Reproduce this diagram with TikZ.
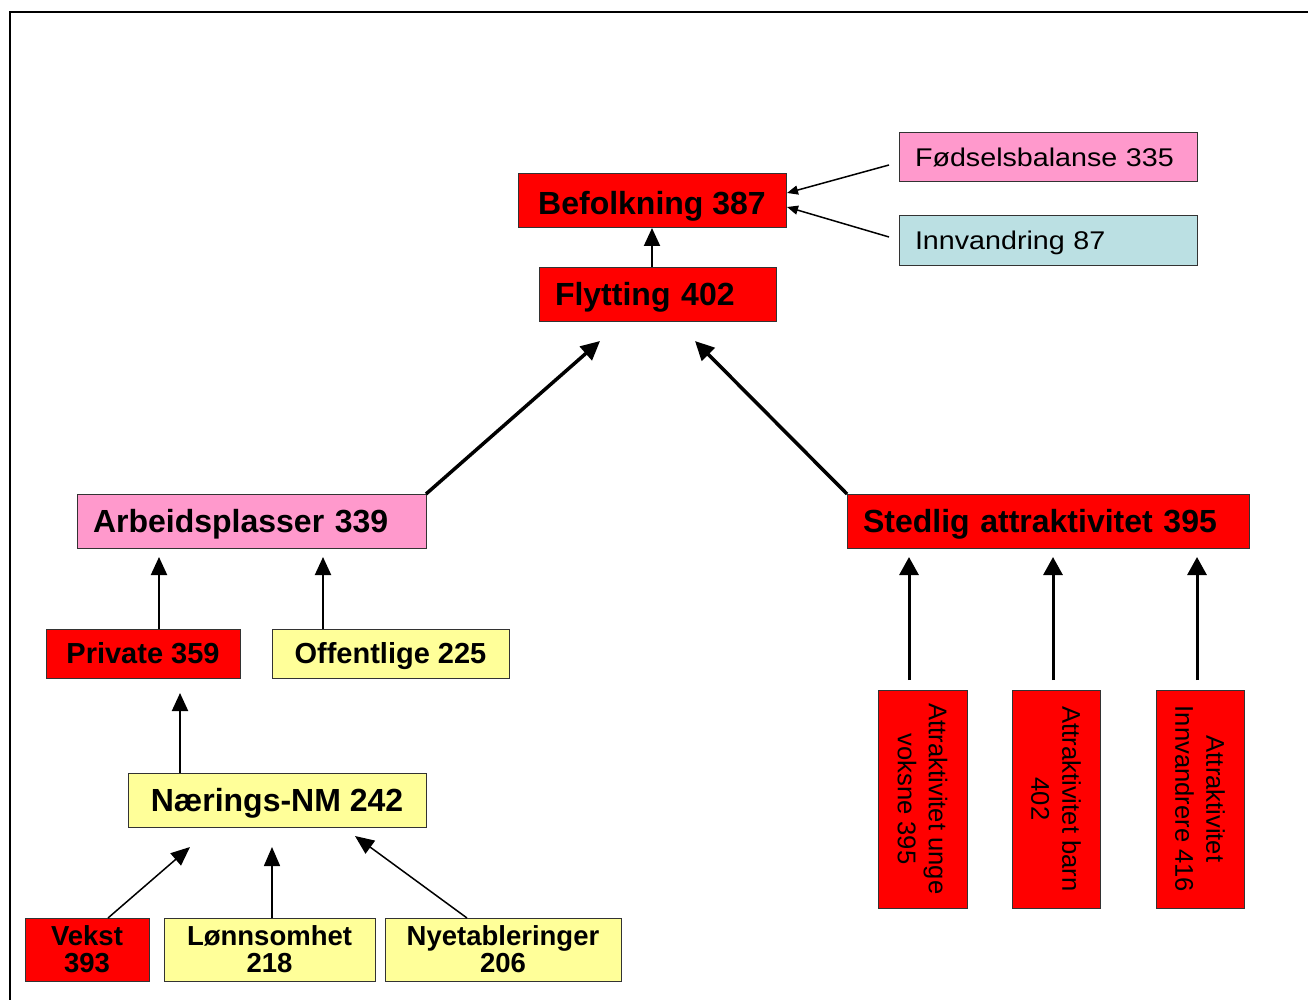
\documentclass[tikz,border=0pt]{standalone}
\usepackage{fontspec}
\setmainfont{Liberation Sans}
\newfontfamily\widereg[FakeStretch=1.12]{Liberation Sans}
\usetikzlibrary{arrows.meta,calc}
\definecolor{cred}{HTML}{FF0000}
\definecolor{cpink}{HTML}{FF99CC}
\definecolor{cyel}{HTML}{FFFF99}
\definecolor{cblue}{HTML}{BBE0E3}
\definecolor{cedge}{HTML}{333333}
\tikzset{
  box/.style={draw=cedge, line width=1pt, inner sep=0pt, outer sep=0pt},
  bigtxt/.style={font=\fontsize{32}{38}\selectfont\bfseries, text height=23pt, text depth=0pt},
  midtxt/.style={font=\fontsize{29}{34}\selectfont\bfseries, text height=20.8pt, text depth=0pt},
  regtxt/.style={font=\widereg\fontsize{25.6}{30}\selectfont, text height=18.3pt, text depth=0pt},
  smalltxt/.style={font=\fontsize{27.5}{27}\selectfont\bfseries, align=center},
  vtxt/.style={font=\fontsize{25.6}{31}\selectfont, align=center, rotate=-90},
  leftbox/.style 2 args={box, text width=#1-32pt, inner xsep=16pt, minimum height=#2, align=left},
  cbox/.style 2 args={box, minimum width=#1, minimum height=#2, align=center},
  arrthin/.style={line width=1.5pt, -{Triangle[width=9pt,length=11pt]}},
  arrmed/.style={line width=2pt, -{Triangle[width=16pt,length=18pt]}},
  arrbot/.style={line width=1.5pt, -{Triangle[width=16pt,length=19pt]}},
  arrthick/.style={line width=3.5pt, -{Triangle[width=18pt,length=19pt]}},
  arrvert/.style={line width=3pt, -{Triangle[width=19pt,length=18pt]}},
  frame/.style={line width=2pt}
}
\begin{document}
\begin{tikzpicture}[x=1pt,y=-1pt]
\useasboundingbox (0,0) rectangle (1308,1000);
\fill[white] (0,0) rectangle (1308,1000);
\draw[frame] (9.5,1000) -- (9.5,12.5) -- (1308,12.5);

% top
\node[cbox={268pt}{54pt}, fill=cred, bigtxt] (bef) at (652,201) {\raisebox{-2pt}{Befolkning 387}};
\node[leftbox={298pt}{49pt}, fill=cpink, regtxt] (fod) at (1048,157.5) {Fødselsbalanse 335};
\node[leftbox={298pt}{49pt}, fill=cblue, regtxt] (inn) at (1048,240.5) {Innvandring 87};
\node[leftbox={237pt}{54pt}, fill=cred, bigtxt] (fly) at (657.5,294) {Flytting 402};

% middle
\node[leftbox={349pt}{54pt}, fill=cpink, bigtxt] (arb) at (251.5,521) {Arbeidsplasser 339};
\node[leftbox={402pt}{54pt}, fill=cred, bigtxt] (sted) at (1048,521) {Stedlig attraktivitet 395};

\node[cbox={194pt}{49pt}, fill=cred, midtxt] (priv) at (143,653.5) {Private 359};
\node[cbox={237pt}{49pt}, fill=cyel, midtxt] (off) at (390.5,653.5) {Offentlige 225};

\node[cbox={298pt}{54pt}, fill=cyel, bigtxt] (naer) at (277,800) {Nærings-NM 242};

% bottom
\node[cbox={124pt}{63pt}, fill=cred, smalltxt] (vekst) at (87,949.5) {Vekst\\393};
\node[cbox={211pt}{63pt}, fill=cyel, smalltxt] (lonn) at (269.5,949.5) {Lønnsomhet\\218};
\node[cbox={236pt}{63pt}, fill=cyel, smalltxt] (nye) at (503,949.5) {Nyetableringer\\206};

% vertical boxes
\node[cbox={218pt}{89pt}, fill=cred, vtxt] (au) at (922.5,799) {Attraktivitet unge\\voksne 395};
\node[cbox={218pt}{88pt}, fill=cred, vtxt] (ab) at (1056,799) {Attraktivitet barn\\402};
\node[cbox={218pt}{88pt}, fill=cred, vtxt] (ai) at (1200,799) {Attraktivitet\\Innvandrere 416};

% connectors
\draw[arrmed] (fly.north -| bef.south) -- (bef.south);
\draw[arrthin] ($(fod.west)+(-10,7.5)$) -- ($(bef.east)+(1,-8)$);
\draw[arrthin] ($(inn.west)+(-10,-3.5)$) -- ($(bef.east)+(1,6)$);

\draw[arrthick] (arb.north east) -- ($(fly.south)+(-57.5,20)$);
\draw[arrthick] (sted.north west) -- ($(fly.south)+(37.5,20)$);

\draw[arrmed] ($(priv.north)+(16,0)$) -- ($(arb.south)+(-92.5,9)$);
\draw[arrmed] ($(off.north)+(-67.5,0)$) -- ($(arb.south)+(71.5,9)$);

\draw[arrmed] ($(naer.north)+(-97,0)$) -- ($(priv.south)+(37,15)$);

\draw[arrbot] ($(vekst.north)+(21,0)$) -- ($(naer.south)+(-87,20)$);
\draw[arrbot] ($(lonn.north)+(2.5,0)$) -- ($(naer.south)+(-5,20)$);
\draw[arrbot] ($(nye.north)+(-36,0)$) -- ($(naer.south)+(78,9)$);

\draw[arrvert] ($(au.west)+(-13.5,-10)$) -- ($(sted.south)+(-139,9)$);
\draw[arrvert] ($(ab.west)+(-3,-10)$) -- ($(sted.south)+(5,9)$);
\draw[arrvert] ($(ai.west)+(-3,-10)$) -- ($(sted.south)+(149,9)$);
\end{tikzpicture}
\end{document}
